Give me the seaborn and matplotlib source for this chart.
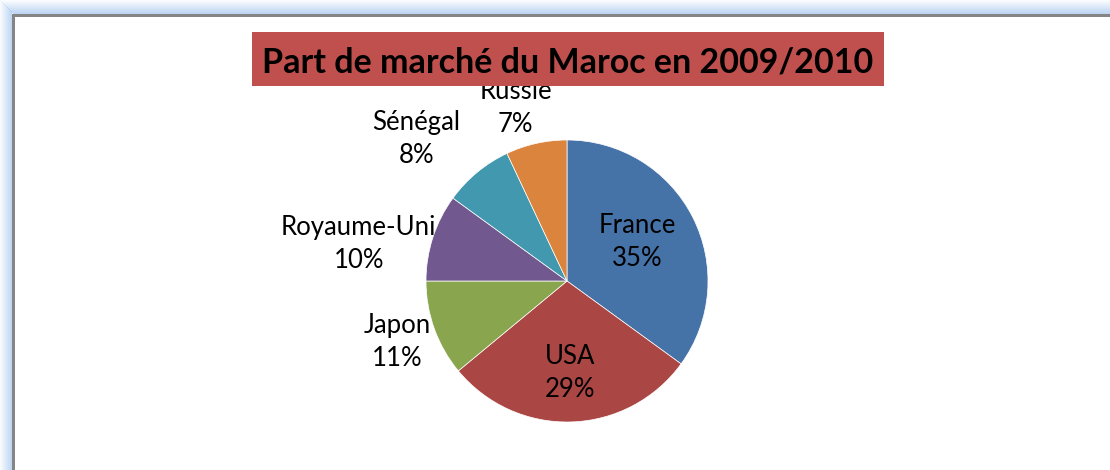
import numpy as np
import matplotlib
matplotlib.use('Agg')
import matplotlib.pyplot as plt
from matplotlib.patches import Rectangle
import seaborn as sns

# Data
pays = ['France', 'USA', 'Japon', 'Royaume-Uni', 'Sénégal', 'Russie']
parts = [35, 29, 11, 10, 8, 7]
couleurs = ['#4572A7', '#AA4643', '#89A54E', '#71588F', '#4198AF', '#DB843D']
titre = 'Part de marché du Maroc en 2009/2010'

# label placement (distance from centre in radii, angular nudge in degrees)
lab_dist = [0.57, 0.65, 1.28, 1.50, 1.47, 1.28]
lab_nudge = [2, 0, 0, 8, 7, 4]

sns.set_theme(style='white')
plt.rcParams['font.family'] = ['Lato', 'DejaVu Sans']

W, H = 1110, 470
fig = plt.figure(figsize=(W / 100, H / 100), dpi=100)
fig.patch.set_facecolor('white')

# Excel-like frame: blue glow on left/top, grey line
for i in range(12):
    a = 0.08 + 0.06 * i
    fig.patches.append(Rectangle((i / W, 0), 1 / W, 1 - i / H, transform=fig.transFigure,
                                 color='#A9C8F0', alpha=min(a, 0.8), lw=0, zorder=0))
for i in range(14):
    a = 0.05 + 0.055 * i
    fig.patches.append(Rectangle((i / W, 1 - (i + 1) / H), 1, 1 / H, transform=fig.transFigure,
                                 color='#A9C8F0', alpha=min(a, 0.8), lw=0, zorder=0))
fig.patches.append(Rectangle((12 / W, 0), 3 / W, 1 - 14 / H, transform=fig.transFigure,
                             color='#858585', lw=0, zorder=1))
fig.patches.append(Rectangle((12 / W, 1 - 17 / H), 1, 3 / H, transform=fig.transFigure,
                             color='#858585', lw=0, zorder=1))

# pie axes: radius 1 -> 141 px, centre at (567, 281)
R, cx, cy = 141, 567, 281
ax = fig.add_axes([0, 0, 1, 1])

wedges, _ = ax.pie(parts, colors=couleurs, startangle=90, counterclock=False,
                   wedgeprops=dict(edgecolor='white', linewidth=0.5))
ax.set_xlim(-cx / R, (W - cx) / R)
ax.set_ylim(-(H - cy) / R, cy / R)
ax.axis('off')

for w, nom, p, d, n in zip(wedges, pays, parts, lab_dist, lab_nudge):
    ang = np.deg2rad((w.theta1 + w.theta2) / 2 + n)
    ax.text(d * np.cos(ang), d * np.sin(ang), f'{nom}\n{p}%', ha='center', va='center',
            fontsize=18.5, color='black', linespacing=1.4)

# title banner
fig.patches.append(Rectangle((252 / W, 1 - 86 / H), 632 / W, 54 / H, transform=fig.transFigure,
                             color='#C0504D', lw=0, zorder=2))
fig.text(568 / W, 1 - 59 / H, titre, ha='center', va='center_baseline', fontsize=24.5,
         fontweight='bold', color='black', zorder=3)

fig.savefig('out.png', dpi=100)
